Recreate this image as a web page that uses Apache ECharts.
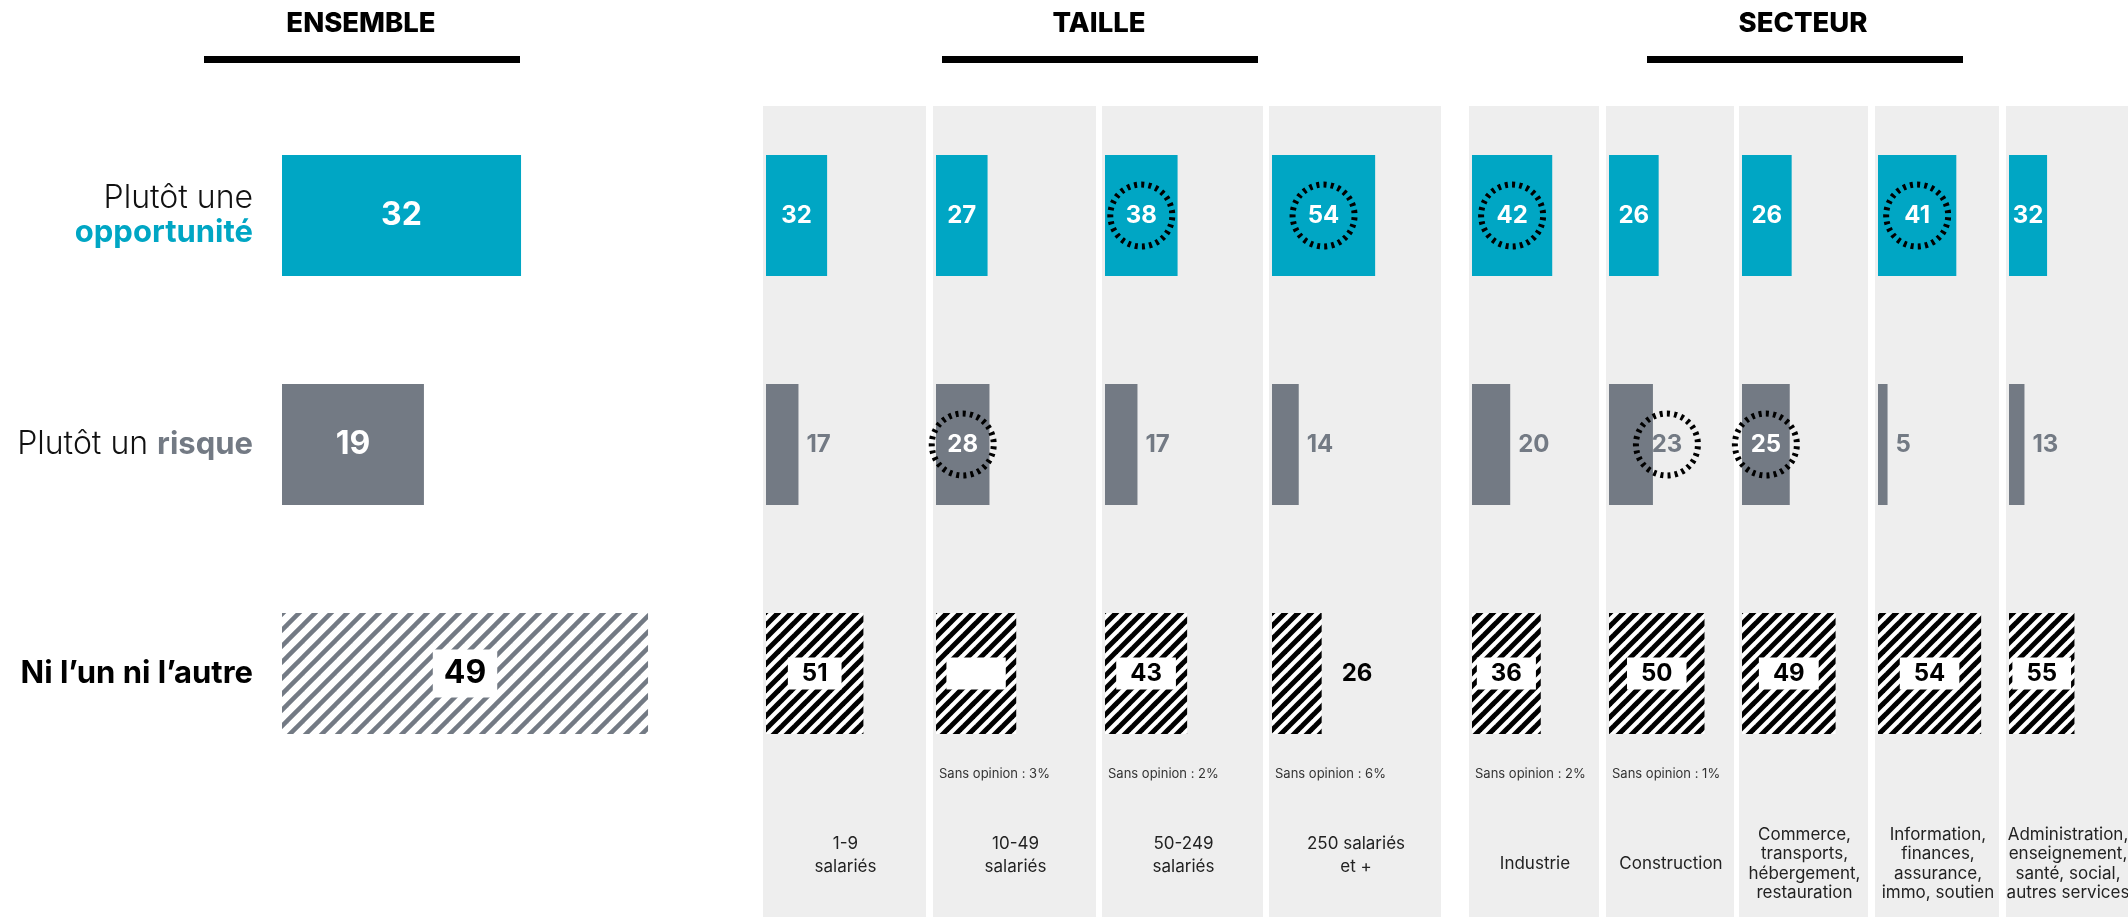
<!DOCTYPE html>
<html><head><meta charset="utf-8">
<script src="https://cdn.jsdelivr.net/npm/echarts@6/dist/echarts.min.js"></script>
<style>html,body{margin:0;padding:0;background:#fff}#c{width:2128px;height:917px}</style>
</head><body><div id="c"></div>
<script>
// ---------- DATA ----------
const answers = ['Plutôt une opportunité', 'Plutôt un risque', 'Ni l’un ni l’autre'];
const groupTitles = ['ENSEMBLE', 'TAILLE', 'SECTEUR'];
const ensembleValues = [32, 19, 49];

const tailleCats = ['1-9\nsalariés', '10-49\nsalariés', '50-249\nsalariés', '250 salariés\net +'];
const tailleOpp  = [32, 27, 38, 54];
const tailleRisk = [17, 28, 17, 14];
const tailleNi   = [51, 42, 43, 26];
const tailleSansOpinion = [null, 3, 2, 6];
const tailleSigOpp  = [false, false, true, true];
const tailleSigRisk = [false, true, false, false];
const tailleNiBlankLabel = [false, true, false, false];

const secteurCats = ['Industrie', 'Construction', 'Commerce,\ntransports,\nhébergement,\nrestauration',
  'Information,\nfinances,\nassurance,\nimmo, soutien', 'Administration,\nenseignement,\nsanté, social,\nautres services'];
const secteurOpp  = [42, 26, 26, 41, 32];
const secteurRisk = [20, 23, 25, 5, 13];
const secteurNi   = [36, 50, 49, 54, 55];
const secteurSansOpinion = [2, 1, null, null, null];
const secteurSigOpp  = [true, false, false, true, false];
const secteurSigRisk = [false, true, true, false, false];

// ---------- LAYOUT / STYLE ----------
const FONT = 'Inter, "Open Sans", "Noto Sans", sans-serif';
const TEAL = '#00a6c4', GRAY = '#737a84', PANEL = '#eeeeee';
const ROW_TOP = 101, ROW_H = 687;
const tailleLeft  = [763, 933, 1102, 1269];
const tailleRight = [926, 1096, 1263, 1441];
const secteurLeft  = [1469, 1606, 1739, 1875, 2006];
const secteurRight = [1599, 1734, 1868, 1999, 2128];
const PANEL_TOP = 106;

function stripes(size, lw, color) {
  const c = document.createElement('canvas');
  c.width = size; c.height = size;
  const g = c.getContext('2d');
  g.fillStyle = '#fff'; g.fillRect(0, 0, size, size);
  g.strokeStyle = color; g.lineWidth = lw;
  for (let k = -1; k <= 1; k++) {
    g.beginPath(); g.moveTo(k * size - 2, size + 2); g.lineTo(k * size + size + 2, -2); g.stroke();
  }
  return c;
}
const hatchBig = { image: stripes(16, 4.5, GRAY), repeat: 'repeat' };
const hatchSmall = { image: stripes(13, 5, '#000'), repeat: 'repeat' };

function circle(lab, outside) {
  Object.assign(lab, {
    width: 62, height: 62, lineHeight: 62, borderRadius: 31, padding: 0,
    borderWidth: 3, borderColor: '#000', borderType: [3, 4.2],
    align: 'center', verticalAlign: 'middle', backgroundColor: 'transparent'
  });
  if (outside) lab.distance = 14;
  return lab;
}

function makeLabel(v, row, big, sig, blank) {
  const fs = big ? 32 : 24;
  const lab = { show: true, fontFamily: FONT, fontWeight: 700, fontSize: fs, formatter: '{c}' };
  let outside = false;
  if (row === 0) {
    Object.assign(lab, { position: 'inside', color: '#fff' });
  } else if (row === 1) {
    if (big || v >= 25) Object.assign(lab, { position: 'inside', color: '#fff' });
    else { outside = true; Object.assign(lab, { position: 'right', distance: 8, color: GRAY }); }
  } else {
    if (big || v >= 30) Object.assign(lab, {
      position: 'inside', color: blank ? '#fff' : '#000', backgroundColor: '#fff',
      padding: big ? [8, 11] : [4, 14], lineHeight: big ? 32 : 24
    });
    else { outside = true; Object.assign(lab, { position: 'right', distance: 20, color: '#000' }); }
  }
  if (sig) circle(lab, outside);
  return lab;
}

const grids = [], xAxes = [], yAxes = [], series = [];
function addPanel(left, width, vals, big, sigs, blanks, showAxisLabel) {
  const gi = grids.length;
  grids.push({ left: left, top: ROW_TOP, width: width, height: ROW_H, containLabel: false });
  xAxes.push({ type: 'value', gridIndex: gi, min: 0, max: 100, show: false });
  yAxes.push({
    type: 'category', gridIndex: gi, data: answers, inverse: true,
    axisLine: { show: false }, axisTick: { show: false }, splitLine: { show: false },
    axisLabel: showAxisLabel ? {
      show: true, margin: 29, align: 'right',
      formatter: (val, idx) => idx === 0 ? '{l|Plutôt une}\n{o|opportunité}'
        : idx === 1 ? '{l|Plutôt un }{r|risque}' : '{n|' + val + '}',
      rich: {
        l: { fontFamily: FONT, fontWeight: 300, fontSize: 32, color: '#111', lineHeight: 35 },
        o: { fontFamily: FONT, fontWeight: 700, fontSize: 31, color: TEAL, lineHeight: 35 },
        r: { fontFamily: FONT, fontWeight: 700, fontSize: 31, color: GRAY, lineHeight: 35 },
        n: { fontFamily: FONT, fontWeight: 700, fontSize: 31, color: '#000', lineHeight: 35 }
      }
    } : { show: false }
  });
  const colors = [TEAL, GRAY, big ? hatchBig : hatchSmall];
  series.push({
    type: 'bar', xAxisIndex: gi, yAxisIndex: gi, barWidth: 121, animation: false,
    silent: true,
    data: vals.map((v, k) => ({
      value: v, itemStyle: { color: colors[k] },
      label: makeLabel(v, k, big, sigs[k], blanks[k])
    }))
  });
}

addPanel(282, 747, ensembleValues, true, [false, false, false], [false, false, false], true);
tailleOpp.forEach((_, i) => addPanel(tailleLeft[i] + 3, 191,
  [tailleOpp[i], tailleRisk[i], tailleNi[i]], false,
  [tailleSigOpp[i], tailleSigRisk[i], false], [false, false, tailleNiBlankLabel[i]], false));
secteurOpp.forEach((_, i) => addPanel(secteurLeft[i] + 3, 191,
  [secteurOpp[i], secteurRisk[i], secteurNi[i]], false,
  [secteurSigOpp[i], secteurSigRisk[i], false], [false, false, false], false));

// ---------- GRAPHICS (backgrounds, headers, captions) ----------
const graphic = [];
function panelDeco(lefts, rights, cats, sans, lh, cy) {
  lefts.forEach((l, i) => {
    graphic.push({ type: 'rect', z: -10, shape: { x: l, y: PANEL_TOP, width: rights[i] - l, height: 917 - PANEL_TOP },
      style: { fill: PANEL } });
    graphic.push({ type: 'text', z: 5, style: {
      text: cats[i], x: (l + rights[i]) / 2 + 1, y: cy, align: 'center', verticalAlign: 'middle',
      font: '400 17px ' + FONT, fill: '#222', lineHeight: lh } });
    if (sans[i] != null) graphic.push({ type: 'text', z: 5, style: {
      text: 'Sans opinion : ' + sans[i] + '%', x: l + 6, y: 774, align: 'left', verticalAlign: 'middle',
      font: '400 13px ' + FONT, fill: '#333' } });
  });
}
panelDeco(tailleLeft, tailleRight, tailleCats, tailleSansOpinion, 23, 855);
panelDeco(secteurLeft, secteurRight, secteurCats, secteurSansOpinion, 19.5, 864);

const heads = [[361, 204, 520], [1099, 942, 1258], [1803, 1647, 1963]];
heads.forEach((h, i) => {
  graphic.push({ type: 'text', style: { text: groupTitles[i], x: h[0], y: 24, align: 'center', verticalAlign: 'middle',
    font: '800 27.5px ' + FONT, fill: '#000' } });
  graphic.push({ type: 'rect', shape: { x: h[1], y: 56, width: h[2] - h[1], height: 7 }, style: { fill: '#000' } });
});

const chart = echarts.init(document.getElementById('c'), null, { renderer: 'canvas' });
chart.setOption({
  backgroundColor: '#fff', animation: false,
  grid: grids, xAxis: xAxes, yAxis: yAxes, series: series, graphic: graphic
});
</script>
</body></html>
